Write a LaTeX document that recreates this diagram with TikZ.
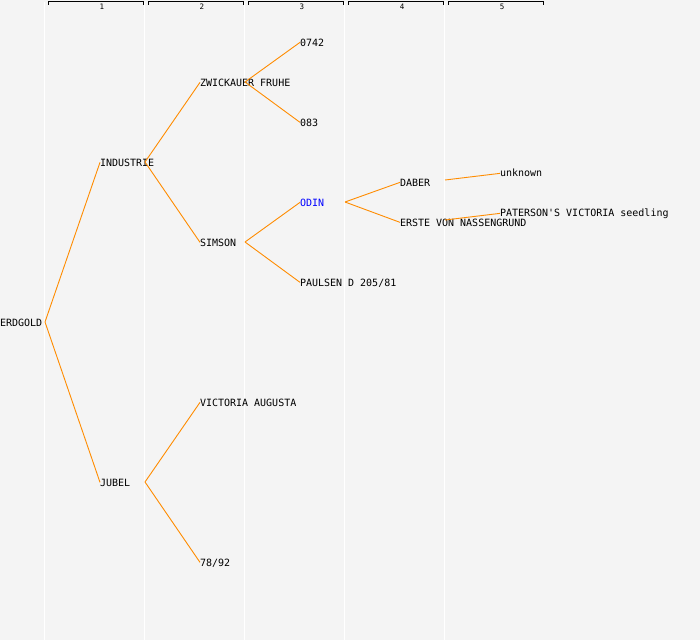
\documentclass[tikz,border=0pt]{standalone}
\usepackage{fontspec}
\setmonofont{DejaVu Sans Mono}
\definecolor{bgc}{RGB}{244,244,244}
\definecolor{edgec}{RGB}{255,140,0}
\definecolor{odinc}{RGB}{0,0,255}
\tikzset{
  lbl/.style={anchor=base west, inner sep=0pt, outer sep=0pt, font=\ttfamily\fontsize{10}{10}\selectfont, text height=7.3pt, text depth=0pt, text=black},
  hdr/.style={anchor=base, inner sep=0pt, font=\ttfamily\fontsize{7.5}{7.5}\selectfont},
  link/.style={draw=edgec, line width=0.9pt},
  colline/.style={draw=white, line width=1pt},
  bracket/.style={draw=black, line width=0.9pt}
}
\begin{document}
\begin{tikzpicture}[x=1pt, y=-1pt]
\fill[bgc] (0,0) rectangle (700,640);
\useasboundingbox (0,0) rectangle (700,640);
% column separators
\foreach \i in {0,...,4} {
  \draw[colline] ({44.5+100*\i},2) -- ({44.5+100*\i},640);
}
% header brackets
\foreach \i in {1,...,5} {
  \draw[bracket] ({48+100*(\i-1)},4.5) -- ({48+100*(\i-1)},1.5) -- ({143+100*(\i-1)},1.5) -- ({143+100*(\i-1)},4.5);
  \node[hdr] (h\i) at ({102+100*(\i-1)},9.2) {\i};
}
% nodes
\node[lbl] (erdgold) at (0,326) {ERDGOLD};
\node[lbl] (industrie) at (100,166) {INDUSTRIE};
\node[lbl] (jubel) at (100,486) {JUBEL};
\node[lbl] (zwickauer) at (200,86) {ZWICKAUER FRUHE};
\node[lbl] (simson) at (200,246) {SIMSON};
\node[lbl] (victoria) at (200,406) {VICTORIA AUGUSTA};
\node[lbl] (n7892) at (200,566) {78/92};
\node[lbl] (n0742) at (300,46) {0742};
\node[lbl] (n083) at (300,126) {083};
\node[lbl, text=odinc] (odin) at (300,206) {ODIN};
\node[lbl] (paulsen) at (300,286) {PAULSEN D 205/81};
\node[lbl] (daber) at (400,186) {DABER};
\node[lbl] (erste) at (400,226) {ERSTE VON NASSENGRUND};
\node[lbl] (unknown) at (500,176) {unknown};
\node[lbl] (paterson) at (500,216) {PATERSON'S VICTORIA seedling};
% out points
\coordinate (erdgold-o) at (45,322);
\coordinate (industrie-o) at (145,162);
\coordinate (jubel-o) at (145,482);
\coordinate (zwickauer-o) at (245,82);
\coordinate (simson-o) at (245,242);
\coordinate (odin-o) at (345,202);
\coordinate (daber-o) at (445,180);
\coordinate (erste-o) at (445,220);
% connectors
\draw[link] (erdgold-o) -- (industrie.west);
\draw[link] (erdgold-o) -- (jubel.west);
\draw[link] (industrie-o) -- (zwickauer.west);
\draw[link] (industrie-o) -- (simson.west);
\draw[link] (jubel-o) -- (victoria.west);
\draw[link] (jubel-o) -- (n7892.west);
\draw[link] (zwickauer-o) -- (n0742.west);
\draw[link] (zwickauer-o) -- (n083.west);
\draw[link] (simson-o) -- (odin.west);
\draw[link] (simson-o) -- (paulsen.west);
\draw[link] (odin-o) -- (daber.west);
\draw[link] (odin-o) -- (erste.west);
\draw[link] (daber-o) -- ([yshift=-1pt]unknown.west);
\draw[link] (erste-o) -- ([yshift=-1pt]paterson.west);
\end{tikzpicture}
\end{document}
